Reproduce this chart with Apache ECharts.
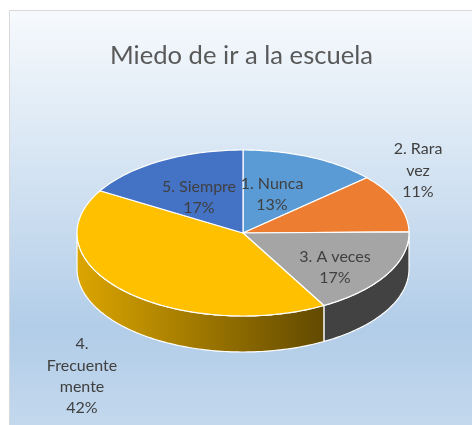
<!DOCTYPE html>
<html><head><meta charset="utf-8">
<style>html,body{margin:0;padding:0;background:#fff}#c{width:472px;height:425px}</style>
<script src="https://cdn.jsdelivr.net/npm/echarts@6/dist/echarts.min.js"></script>
</head><body><div id="c"></div>
<script>
const categories = ['1. Nunca','2. Rara vez','3. A veces','4. Frecuente mente','5. Siempre'];
const values = [13.4,11.4,17.1,41.6,16.5];
const labelLines = [['1. Nunca'],['2. Rara','vez'],['3. A veces'],['4.','Frecuente','mente'],['5. Siempre']];
const colors = ['#5B9BD5','#ED7D31','#A5A5A5','#FFC000','#4472C4'];
const chartTitle = 'Miedo de ir a la escuela';

const CX=243, CY=233, RX=166, RY=83, DEPTH=36;
const labelAt = [[272,194],[418,170.5],[335,267],[82,376],[199,197]];
const total = values.reduce((a,b)=>a+b,0);
const FONT='Lato, "Open Sans", sans-serif';

function pt(a,dy){ return [CX+RX*Math.sin(a), CY-RY*Math.cos(a)+(dy||0)]; }
function arc(a0,a1,dy){
  const out=[], n=Math.max(2,Math.ceil(Math.abs(a1-a0)/0.02));
  for(let i=0;i<=n;i++) out.push(pt(a0+(a1-a0)*i/n,dy));
  return out;
}
function angles(i){
  let s=0; for(let k=0;k<i;k++) s+=values[k];
  return [s/total*2*Math.PI,(s+values[i])/total*2*Math.PI];
}
const edge={stroke:'#fff',lineWidth:1.2};
function wall(a0,a1,fill){
  return {type:'polygon',shape:{points:arc(a0,a1,0).concat(arc(a1,a0,DEPTH))},style:Object.assign({fill},edge)};
}
function renderItem(params,api){
  const i=params.dataIndex, [a0,a1]=angles(i), children=[];
  const s0=Math.max(a0,Math.PI/2), s1=Math.min(a1,1.5*Math.PI);
  if(s1>s0){
    const fill = i===3
      ? new echarts.graphic.LinearGradient(0,0,1,0,[{offset:0,color:'#DCA600'},{offset:1,color:'#614900'}])
      : '#424242';
    children.push(wall(s0,s1,fill));
  }
  children.push({type:'polygon',shape:{points:[[CX,CY]].concat(arc(a0,a1,0))},style:Object.assign({fill:colors[i]},edge)});
  return {type:'group',children};
}
function labelItem(params,api){
  const i=params.dataIndex, v=api.value(0);
  const text=labelLines[i].concat([Math.round(v/total*100)+'%']).join('\n');
  return {type:'text',x:labelAt[i][0],y:labelAt[i][1],style:{text,fill:'#404040',font:'16px '+FONT,align:'center',verticalAlign:'middle',lineHeight:21.3}};
}
const data=values.map((v,i)=>({name:categories[i],value:[v]}));
const chart=echarts.init(document.getElementById('c'),null,{renderer:'canvas'});
chart.setOption({
  animation:false,
  graphic:{elements:[{type:'rect',z:-10,silent:true,shape:{x:9.5,y:10.5,width:470,height:430},
    style:{stroke:'#D9D9D9',lineWidth:1,fill:new echarts.graphic.LinearGradient(0,0,0,1,[
      {offset:0,color:'#F7FAFD'},{offset:0.74,color:'#B2CDE8'},{offset:1,color:'#C6DAEE'}])}}]},
  title:{text:chartTitle,left:105,top:38,textStyle:{fontFamily:FONT,fontSize:25.6,fontWeight:'normal',color:'#595959'}},
  tooltip:{show:false},
  series:[
    {type:'custom',coordinateSystem:'none',renderItem,data,silent:true,z:2},
    {type:'custom',coordinateSystem:'none',renderItem:labelItem,data,silent:true,z:3}
  ]
});
</script></body></html>
